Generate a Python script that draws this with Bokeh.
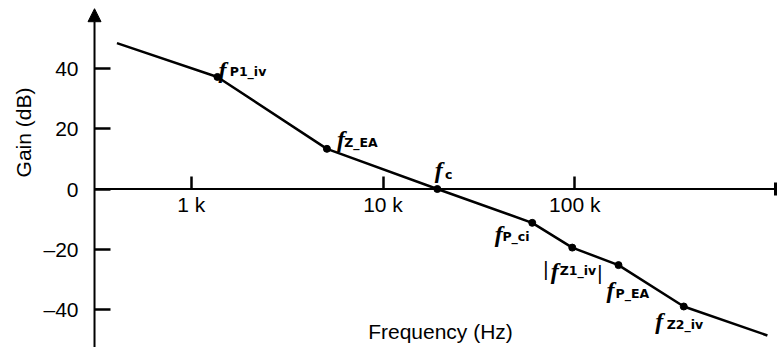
from bokeh.plotting import figure
from bokeh.models import (Range1d, LinearAxis, LogAxis, FixedTicker, ColumnDataSource,
                          Label, Arrow, NormalHead, TeeHead)
from bokeh.core.properties import value
from bokeh.embed import file_html
from bokeh.resources import INLINE

# Asymptotic loop-gain curve: frequency (Hz) and gain (dB) at each break point
freq_hz = [410, 1370, 5100, 19200, 60000, 97000, 169000, 370000, 1010000]
gain_db = [48.3, 37.1, 13.3, 0.0, -11.2, -19.4, -25.2, -38.9, -48.5]

# Named break points (index into the curve above) and their subscripts
corner_idx = [1, 2, 3, 4, 5, 6, 7]
corner_sub = ["P1_iv", "Z_EA", "c", "P_ci", "Z1_iv", "P_EA", "Z2_iv"]

x_ticks = [1e3, 1e4, 1e5]
x_tick_labels = ["1 k", "10 k", "100 k"]
y_ticks = [-40, -20, 0, 20, 40]
y_tick_labels = ["–40", "–20", "0", "20", "40"]

# Ranges and axis placement
X_RANGE = (101.3, 1.14e6)
Y_RANGE = (-52.48, 62.42)
Y_AXIS_AT_HZ = 313.2
X_AXIS_END_HZ = 1.113e6
Y_AXIS_TOP_DB = 59.7

# Label placement in pixels: (f dx, f dy, subscript dx, subscript dy)
label_offsets = [
    (1.0, -6.6, 12.3, -5.0),
    (10.0, -10.1, 17.3, -6.3),
    (-2.6, -18.8, 7.7, -14.3),
    (-37.5, 10.9, -29.8, 13.7),
    (-21.5, 23.2, -12.5, 23.3),
    (-12.0, 24.5, -3.0, 28.3),
    (-28.5, 14.5, -17.0, 17.7),
]

SANS = "Liberation Sans"
SERIF = "Liberation Serif"
SUB_FONT = "DejaVu Sans"
TEXT_SIZE = "21px"

p = figure(width=777, height=347, x_axis_type="log",
           x_range=Range1d(*X_RANGE), y_range=Range1d(*Y_RANGE),
           x_axis_location=None, y_axis_location=None,
           min_border=0, toolbar_location=None, output_backend="svg",
           outline_line_color=None, background_fill_color="white",
           border_fill_color="white")
for r in list(p.center):
    r.visible = False

# Gain axis, drawn at the left end of the frequency axis
yax = LinearAxis(fixed_location=Y_AXIS_AT_HZ,
                 ticker=FixedTicker(ticks=y_ticks),
                 major_label_overrides={t: l for t, l in zip(y_ticks, y_tick_labels)},
                 major_tick_in=16, major_tick_out=0,
                 minor_tick_in=0, minor_tick_out=0,
                 axis_line_color=None,
                 major_tick_line_width=2.5, major_tick_line_color="black",
                 major_label_standoff=16,
                 major_label_text_font=SANS, major_label_text_font_size=TEXT_SIZE,
                 major_label_text_color="black")
p.add_layout(yax, "left")

# Frequency axis along 0 dB
xax = LogAxis(fixed_location=0,
              ticker=FixedTicker(ticks=x_ticks),
              major_label_overrides={t: l for t, l in zip(x_ticks, x_tick_labels)},
              major_tick_in=13, major_tick_out=0,
              minor_tick_in=0, minor_tick_out=0,
              axis_line_color=None,
              major_tick_line_width=2.5, major_tick_line_color="black",
              major_label_standoff=4,
              major_label_text_font=SANS, major_label_text_font_size=TEXT_SIZE,
              major_label_text_color="black")
p.add_layout(xax, "below")

# Axis lines with heads
p.add_layout(Arrow(end=NormalHead(size=13, fill_color="black", line_color="black", line_width=1),
                   x_start=Y_AXIS_AT_HZ, y_start=Y_RANGE[0],
                   x_end=Y_AXIS_AT_HZ, y_end=Y_AXIS_TOP_DB,
                   line_width=2, line_color="black"))
p.add_layout(Arrow(end=TeeHead(size=13, line_width=3, line_color="black"),
                   x_start=Y_AXIS_AT_HZ, y_start=0,
                   x_end=X_AXIS_END_HZ, y_end=0,
                   line_width=2, line_color="black"))

# Gain curve
p.line(freq_hz, gain_db, line_width=2.5, line_color="black")

pts = ColumnDataSource(data=dict(
    x=[freq_hz[i] for i in corner_idx],
    y=[gain_db[i] for i in corner_idx],
    f=["f"] * len(corner_idx),
    sub=corner_sub,
    fdx=[o[0] for o in label_offsets],
    fdy=[o[1] for o in label_offsets],
    sdx=[o[2] for o in label_offsets],
    sdy=[o[3] for o in label_offsets],
))
p.scatter("x", "y", source=pts, size=7, color="black")

p.text(x="x", y="y", text="f", source=pts, x_offset="fdx", y_offset="fdy",
       text_font=value(SERIF), text_font_style="bold italic", text_font_size="24px",
       text_align="left", text_baseline="alphabetic", text_color="black")
p.text(x="x", y="y", text="sub", source=pts, x_offset="sdx", y_offset="sdy",
       text_font=value(SUB_FONT), text_font_style="bold", text_font_size="12.5px",
       text_align="left", text_baseline="alphabetic", text_color="black")

# Magnitude bars around the f_Z1_iv label
k = corner_sub.index("Z1_iv")
bars = ColumnDataSource(data=dict(
    x=[freq_hz[corner_idx[k]]] * 2,
    y=[gain_db[corner_idx[k]]] * 2,
    t=["|", "|"],
    dx=[-29.0, 25.0],
    dy=[21.0, 25.0],
))
p.text(x="x", y="y", text="t", source=bars, x_offset="dx", y_offset="dy",
       text_font=value(SANS), text_font_size="20px",
       text_align="left", text_baseline="alphabetic", text_color="black")

# Axis titles
p.add_layout(Label(x=440, y=16, x_units="screen", y_units="screen",
                   text="Frequency (Hz)", text_align="center", text_baseline="alphabetic",
                   text_font=SANS, text_font_size=TEXT_SIZE, text_color="black"))
p.add_layout(Label(x=23, y=215, x_units="screen", y_units="screen",
                   text="Gain (dB)", angle=90, angle_units="deg",
                   text_align="center", text_baseline="middle",
                   text_font=SANS, text_font_size=TEXT_SIZE, text_color="black"))

open("out.html", "w").write(file_html(p, INLINE))
